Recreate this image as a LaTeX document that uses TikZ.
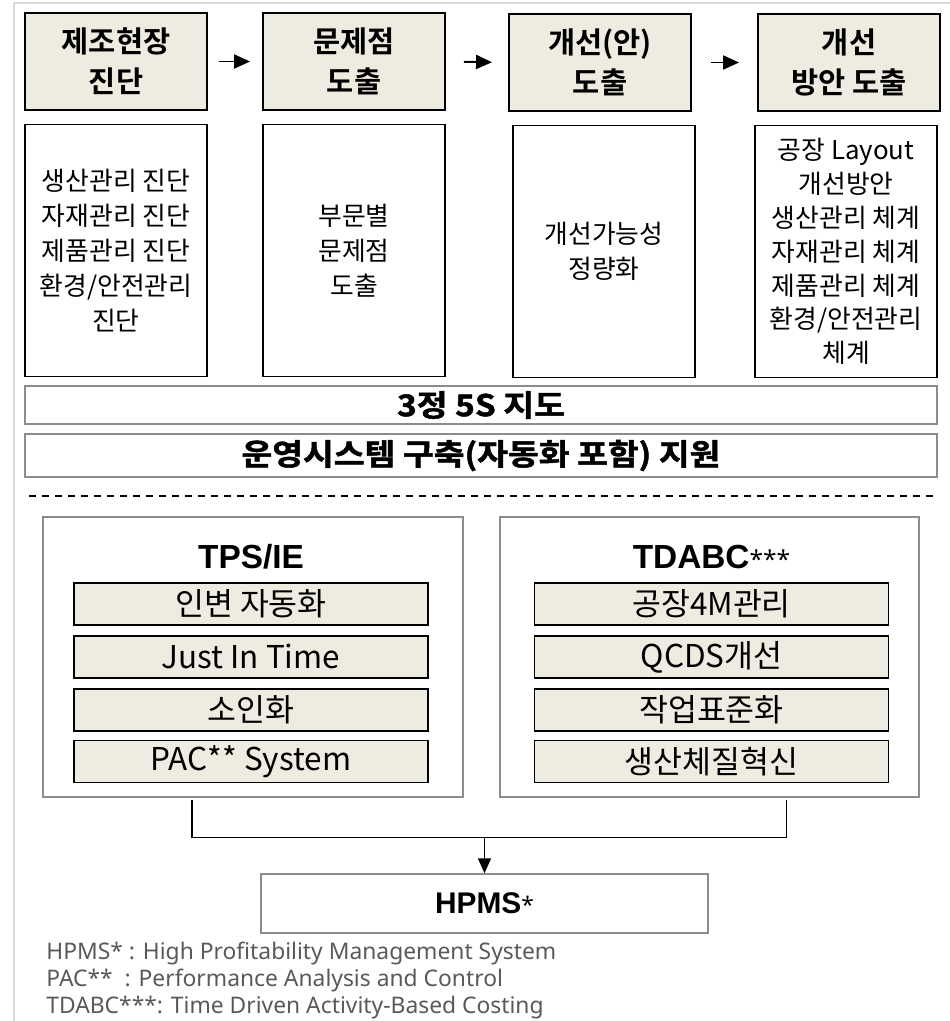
\documentclass[tikz,border=0pt]{standalone}
\usepackage{fontspec}
\setmainfont{Noto Sans CJK KR}
\newfontfamily\krbold{Noto Sans CJK KR Bold}
\newfontfamily\krheavy[FakeBold=1.6,FakeStretch=1.12]{Noto Sans CJK KR Bold}
\newfontfamily\arialbold{Liberation Sans Bold}
\newfontfamily\notefont{Noto Sans}
\usetikzlibrary{positioning,calc,arrows.meta}

\definecolor{boxbeige}{HTML}{EEECE1}
\definecolor{framegray}{HTML}{D9D9D9}
\definecolor{linegray}{HTML}{8C8C8C}
\definecolor{notegray}{HTML}{595959}

\begin{document}
\begin{tikzpicture}[x=0.02cm,y=-0.02cm,node distance=3.78cm,
  headbox/.style={draw,line width=1.1pt,fill=boxbeige,minimum width=3.64cm,minimum height=1.94cm,
    inner sep=0pt,align=center,font=\krbold\fontsize{16.8}{22.8}\selectfont},
  detailbox/.style={draw,line width=0.85pt,minimum width=3.64cm,minimum height=5.04cm,
    inner sep=0pt,align=center,font=\fontsize{14.7}{19.9}\selectfont},
  barbox/.style={draw=linegray,line width=1.1pt,minimum width=18.24cm,inner sep=0pt,
    font=\krheavy\fontsize{17}{20}\selectfont},
  outerbox/.style={draw=linegray,line width=0.85pt,minimum width=8.4cm,minimum height=5.6cm,inner sep=0pt},
  itembox/.style={draw,line width=0.85pt,fill=boxbeige,minimum width=7.08cm,minimum height=0.84cm,
    inner sep=0pt,font=\fontsize{17.9}{20}\selectfont},
  grouptitle/.style={font=\arialbold\fontsize{19}{22}\selectfont},
  step arrow/.style={-{Triangle[length=0.32cm,width=0.28cm]},line width=1.1pt},
  link/.style={line width=0.85pt},
  note/.style={anchor=west,inner sep=0pt,text=notegray,font=\notefont\fontsize{13}{15}\selectfont}]

\useasboundingbox (0,0) rectangle (950,1021);
\draw [framegray,line width=1.1pt] (14,1021) -- (14,3) -- (950,3);

\node [headbox] (H1) at (116,61.5) {제조현장\\진단};
\node [headbox] (H2) at (354,61.5) {문제점\\도출};
\node [headbox] (H3) at (600,62.5) {개선(안)\\도출};
\node [headbox] (H4) at (849,62.5) {개선\\방안 도출};

\draw [step arrow,shorten <=0.22cm,shorten >=0.24cm] (H1.east) -- (H2.west);
\draw [step arrow,shorten <=0.36cm,shorten >=0.32cm] (H2.east) -- (H3.west);
\draw [step arrow,shorten <=0.38cm,shorten >=0.36cm] (H3.east) -- (H4.west);

\node [detailbox,below of = H1] (D1) {생산관리 진단\\자재관리 진단\\제품관리 진단\\환경/안전관리\\진단};
\node [detailbox,below of = H2] (D2) {부문별\\문제점\\도출};
\node [detailbox,below of = H3,xshift=0.08cm] (D3) {개선가능성\\정량화};
\node [detailbox,below of = H4,xshift=-0.06cm,font=\fontsize{14.7}{19.3}\selectfont] (D4)
  {공장 Layout\\개선방안\\생산관리 체계\\자재관리 체계\\제품관리 체계\\환경/안전관리\\체계};

\node [barbox,minimum height=0.76cm] (B1) at (481,405) {3정 5S 지도};
\node [barbox,minimum height=0.86cm] (B2) at (481,455.5) {운영시스템 구축(자동화 포함) 지원};

\draw [line width=0.75pt,dash pattern=on 0.14cm off 0.12cm] (29,496) -- (937,496);

\node [outerbox] (TPS) at (253,657) {};
\node [grouptitle] (TPST) at (251,557) {TPS/IE};
\node [itembox] (T1) at (251,604) {인변 자동화};
\node [itembox,below of = T1,node distance=1.06cm] (T2) {Just In Time};
\node [itembox,below of = T2,node distance=1.06cm] (T3) {소인화};
\node [itembox,below of = T3,node distance=1.03cm] (T4) {PAC** System};

\node [outerbox,minimum width=8.38cm] (TDABC) at (709.5,657) {};
\node [grouptitle] (TDABCT) at (711.5,557) {TDABC{\notefont\fontsize{14}{16}\selectfont ***}};
\node [itembox] (A1) at (711.5,604) {공장4M관리};
\node [itembox,below of = A1,node distance=1.06cm] (A2) {QCDS개선};
\node [itembox,below of = A2,node distance=1.06cm] (A3) {작업표준화};
\node [itembox,below of = A3,node distance=1.03cm] (A4) {생산체질혁신};

\node [outerbox,minimum width=8.94cm,minimum height=1.18cm] (HPMS) at (484.5,903.5)
  {\arialbold\fontsize{17}{20}\selectfont HPMS{\notefont\fontsize{13}{15}\selectfont *}};

\coordinate (join) at (484.5,837);
\draw [link] ($(TPS.south)+(-61,2)$) |- ($(TDABC.south)+(77,40)$) -- ($(TDABC.south)+(77,2)$);
\draw [link,-{Triangle[length=0.3cm,width=0.26cm]}] (join) -- (HPMS.north);

\node [note] (N1) at (46,953) {HPMS* : High Profitability Management System};
\node [note] (N2) at (46,980) {PAC**~~: Performance Analysis and Control};
\node [note] (N3) at (46,1008) {TDABC***: Time Driven Activity-Based Costing};

\end{tikzpicture}
\end{document}
